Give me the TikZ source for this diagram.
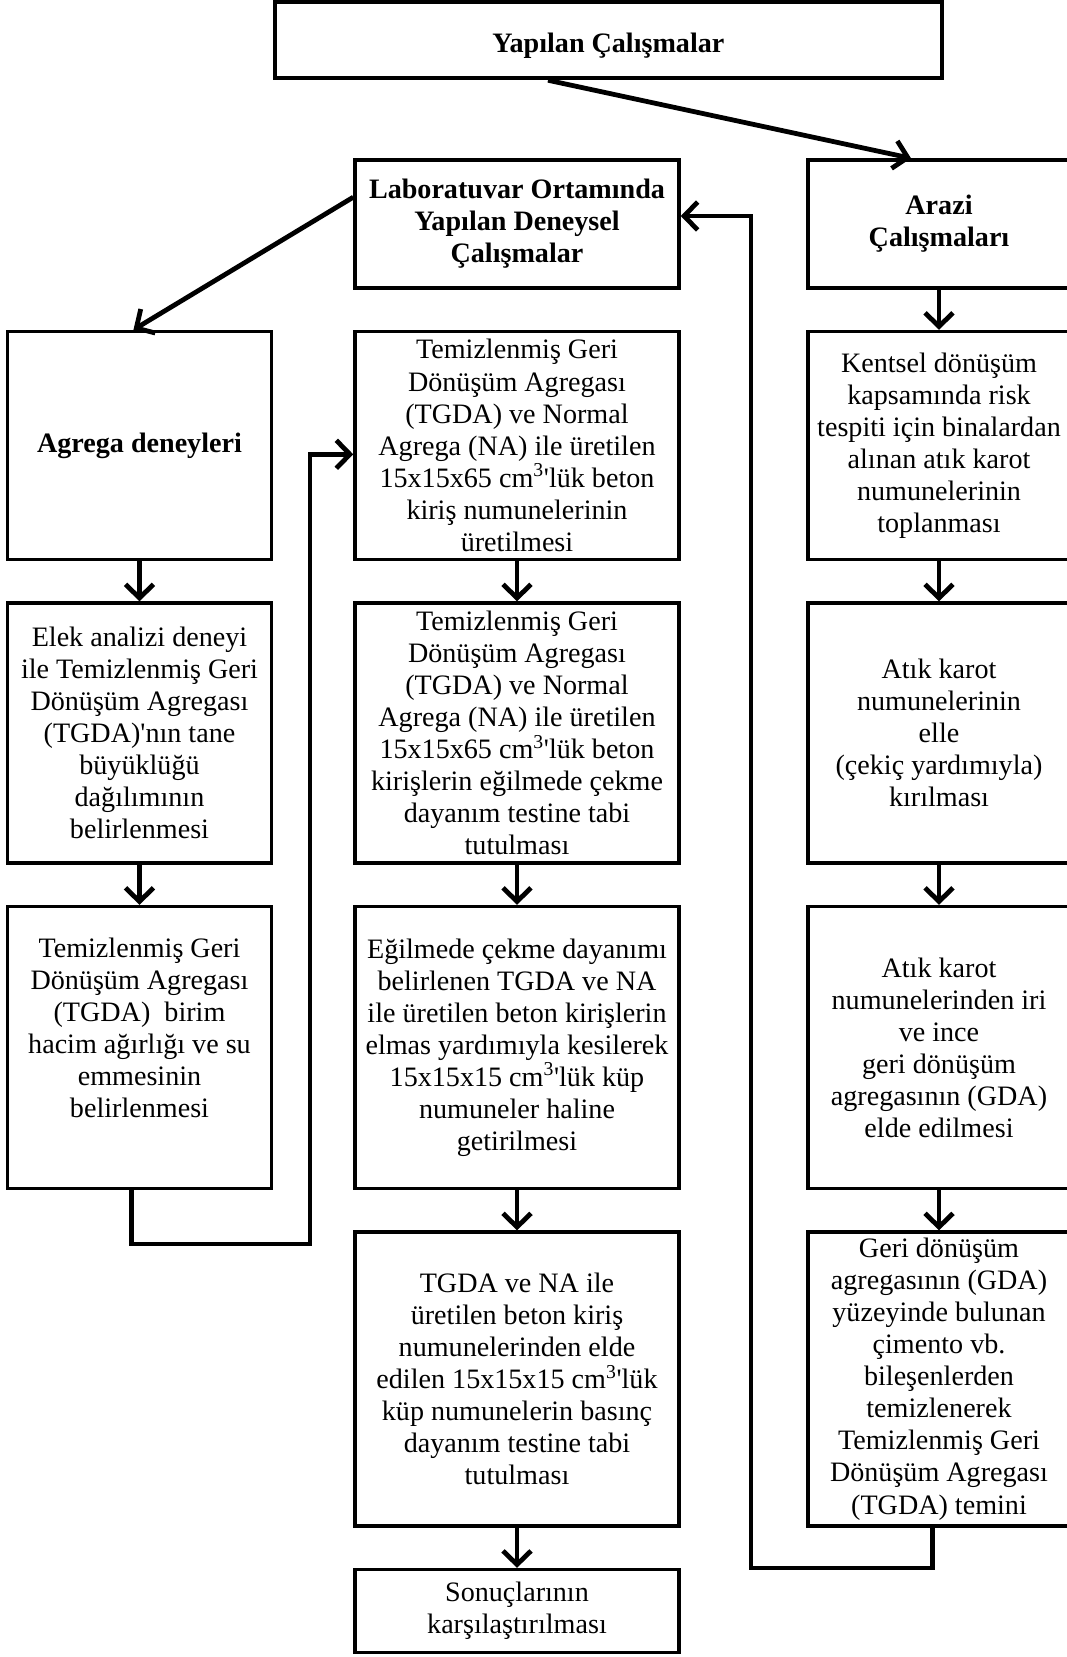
\documentclass[tikz,border=0pt]{standalone}
\usepackage{fontspec}
\setmainfont{Liberation Serif}
\usepackage{tikz}
\usetikzlibrary{calc, arrows.meta, positioning}
\newcommand{\apo}{\textquotesingle}

\begin{document}
\begin{tikzpicture}[
        node distance = 1.0cm and 2cm,
        box/.style = {draw, rectangle, minimum width=8.1cm, align=center, inner sep=2pt, line width=2.5pt, font=\fontsize{20}{22.8}\selectfont},
        leftbox/.style = {box, minimum width=6.6cm},
        rightbox/.style = {box, minimum width=6.55cm},
        arrow/.style = {draw=black, -{Straight Barb[length=3.4mm, width=7mm]}, line width=3.4pt}
    ]
        \useasboundingbox (0,0) rectangle (26.675,-41.425);

        % Top
        \node (title) [box, minimum width=16.675cm, minimum height=1.9cm, line width=3.2pt, text height=0.62cm, text depth=0pt] at (15.21,-1.0) {\textbf{Yapılan Çalışmalar}};
        \node (lab) [box, minimum height=3.2cm] at (12.925,-5.6) {\textbf{Laboratuvar Ortamında}\\\textbf{Yapılan Deneysel}\\\textbf{Çalışmalar}};
        \node (arazi) [rightbox, minimum height=3.2cm] at (23.475,-5.6) {\textbf{Arazi}\\\textbf{Çalışmaları}};

        % Lab column
        \node (m1) [box, minimum height=5.7cm, below=of lab] {Temizlenmiş Geri\\Dönüşüm Agregası\\(TGDA) ve Normal\\Agrega (NA) ile üretilen\\15x15x65 cm\textsuperscript{3}\apo lük beton\\kiriş numunelerinin\\üretilmesi};
        \node (m2) [box, minimum height=6.5cm, below=of m1] {Temizlenmiş Geri\\Dönüşüm Agregası\\(TGDA) ve Normal\\Agrega (NA) ile üretilen\\15x15x65 cm\textsuperscript{3}\apo lük beton\\kirişlerin eğilmede çekme\\dayanım testine tabi\\tutulması};
        \node (m3) [box, minimum height=7.05cm, below=of m2] {Eğilmede çekme dayanımı\\belirlenen TGDA ve NA\\ile üretilen beton kirişlerin\\elmas yardımıyla kesilerek\\15x15x15 cm\textsuperscript{3}\apo lük küp\\numuneler haline\\getirilmesi};
        \node (m4) [box, minimum height=7.35cm, below=of m3] {TGDA ve NA ile\\üretilen beton kiriş\\numunelerinden elde\\edilen 15x15x15 cm\textsuperscript{3}\apo lük\\küp numunelerin basınç\\dayanım testine tabi\\tutulması};
        \node (m5) [box, minimum height=2.075cm, below=of m4] {Sonuçlarının\\karşılaştırılması};

        % Agrega column
        \node (ag) [leftbox, minimum height=5.7cm, left=of m1] {\textbf{Agrega deneyleri}};
        \node (l2) [leftbox, minimum height=6.5cm, below=of ag] {Elek analizi deneyi\\ile Temizlenmiş Geri\\Dönüşüm Agregası\\(TGDA)\apo nın tane\\büyüklüğü\\dağılımının\\belirlenmesi};
        \node (l3) [leftbox, minimum height=7.05cm, below=of l2] {Temizlenmiş Geri\\Dönüşüm Agregası\\(TGDA)\ \ birim\\hacim ağırlığı ve su\\emmesinin\\belirlenmesi\\[0.2cm]};

        % Arazi column
        \node (r1) [rightbox, minimum height=5.7cm, below=of arazi] {Kentsel dönüşüm\\kapsamında risk\\tespiti için binalardan\\alınan atık karot\\numunelerinin\\toplanması};
        \node (r2) [rightbox, minimum height=6.5cm, below=of r1] {Atık karot\\numunelerinin\\elle\\(çekiç yardımıyla)\\kırılması};
        \node (r3) [rightbox, minimum height=7.05cm, below=of r2] {Atık karot\\numunelerinden iri\\ve ince\\geri dönüşüm\\agregasının (GDA)\\elde edilmesi};
        \node (r4) [rightbox, minimum height=7.35cm, below=of r3] {Geri dönüşüm\\agregasının (GDA)\\yüzeyinde bulunan\\çimento vb.\\bileşenlerden\\temizlenerek\\Temizlenmiş Geri\\Dönüşüm Agregası\\(TGDA) temini};

        % Arrows
        \draw [arrow] ($(title.south)+(-1.51,0)$) -- ($(arazi.north)+(-0.7,0)$);
        \draw [arrow] ($(lab.west)+(0,0.67)$) -- ($(ag.north)+(-0.15,0)$);

        \draw [arrow] (ag) -- (l2);
        \draw [arrow] (l2) -- (l3);
        \draw [arrow] (m1) -- (m2);
        \draw [arrow] (m2) -- (m3);
        \draw [arrow] (m3) -- (m4);
        \draw [arrow] (m4) -- (m5);
        \draw [arrow] (arazi) -- (r1);
        \draw [arrow] (r1) -- (r2);
        \draw [arrow] (r2) -- (r3);
        \draw [arrow] (r3) -- (r4);

        % Loops back
        \coordinate (lc) at (7.75,-31.1);
        \coordinate (rc) at (18.775,-39.2);
        \draw [arrow] ([xshift=-0.2cm]l3.south) |- (lc) |- ([yshift=-0.22cm]m1.west);
        \draw [arrow] ([xshift=-0.17cm]r4.south) |- (rc) |- ([yshift=0.2cm]lab.east);

    \end{tikzpicture}
\end{document}
